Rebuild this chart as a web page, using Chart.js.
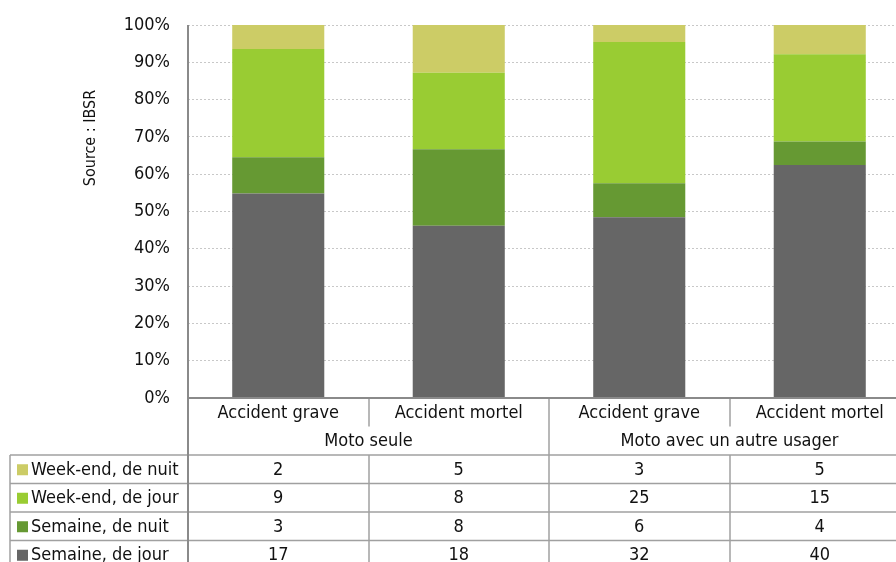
<!DOCTYPE html>
<html>
<head>
<meta charset="utf-8">
<script src="https://cdn.jsdelivr.net/npm/chart.js@4"></script>
<style>
  html, body { margin: 0; padding: 0; overflow: hidden; background: #fff; }
  canvas { display: block; }
</style>
</head>
<body>
<canvas id="myChart" width="910" height="600"></canvas>
<script>
var categories = ['Accident grave', 'Accident mortel', 'Accident grave', 'Accident mortel'];
var groups = ['Moto seule', 'Moto avec un autre usager'];
var seriesNames = ['Semaine, de jour', 'Semaine, de nuit', 'Week-end, de jour', 'Week-end, de nuit'];
var semaineJour = [17, 18, 32, 40];
var semaineNuit = [3, 8, 6, 4];
var weekendJour = [9, 8, 25, 15];
var weekendNuit = [2, 5, 3, 5];
var yTicks = [0, 10, 20, 30, 40, 50, 60, 70, 80, 90, 100];
var colors = ['#666666', '#669933', '#99cc33', '#cccc66'];

var counts = [semaineJour, semaineNuit, weekendJour, weekendNuit];
var totals = categories.map(function(c, i) {
  return counts.reduce(function(s, arr) { return s + arr[i]; }, 0);
});
function toPct(arr) {
  return arr.map(function(v, i) { return v / totals[i] * 100; });
}

var FONT = "'DejaVu Sans Condensed', 'Liberation Sans', sans-serif";
Chart.defaults.font.family = FONT;
Chart.defaults.color = '#111';

var tablePlugin = {
  id: 'dataTable',
  afterDraw: function(chart) {
    var ctx = chart.ctx;
    var area = chart.chartArea;
    var xs = chart.scales.x;
    var n = categories.length;
    var colW = (area.right - area.left) / n;
    var rowTop = area.bottom;
    var rowH = 28.5;
    var legTop = area.bottom + 57;
    var bottom = 620;

    ctx.save();
    // y title
    ctx.save();
    ctx.translate(91, 138);
    ctx.rotate(-Math.PI / 2);
    ctx.font = '16px ' + FONT;
    ctx.fillStyle = '#111';
    ctx.textAlign = 'center';
    ctx.textBaseline = 'middle';
    ctx.fillText('Source : IBSR', 0, 0);
    ctx.restore();

    ctx.strokeStyle = '#a0a0a0';
    ctx.lineWidth = 1.5;
    function line(x1, y1, x2, y2) {
      ctx.beginPath(); ctx.moveTo(x1, y1); ctx.lineTo(x2, y2); ctx.stroke();
    }
    // inner dividers
    for (var i = 1; i < n; i++) {
      var x = Math.round(area.left + colW * i);
      if (i % 2 === 0) {
        line(x, rowTop, x, bottom);
      } else {
        line(x, rowTop, x, rowTop + rowH);
        line(x, legTop, x, bottom);
      }
    }
    // legend rows
    for (var r = 0; r <= seriesNames.length; r++) {
      var y = legTop + r * rowH;
      line(10, y, 910, y);
    }
    line(10, legTop, 10, bottom);

    // axis lines
    ctx.strokeStyle = '#8a8a8a';
    ctx.lineWidth = 2;
    line(area.left, area.top, area.left, bottom);
    line(area.left, area.bottom, 910, area.bottom);

    ctx.fillStyle = '#111';
    ctx.font = '18px ' + FONT;
    ctx.textAlign = 'center';
    ctx.textBaseline = 'middle';
    categories.forEach(function(c, i) {
      ctx.fillText(c, xs.getPixelForValue(i), rowTop + 15);
    });
    groups.forEach(function(g, gi) {
      ctx.fillText(g, area.left + colW * (gi * 2 + 1), rowTop + 43);
    });

    // rows, top series first
    for (var k = seriesNames.length - 1, r2 = 0; k >= 0; k--, r2++) {
      var cy = legTop + r2 * rowH + rowH / 2 + 1;
      ctx.fillStyle = colors[k];
      ctx.fillRect(17, cy - 6, 11, 11);
      ctx.fillStyle = '#111';
      ctx.textAlign = 'left';
      ctx.fillText(seriesNames[k], 31, cy);
      ctx.textAlign = 'center';
      counts[k].forEach(function(v, i) {
        ctx.fillText(String(v), xs.getPixelForValue(i), cy);
      });
    }
    ctx.restore();
  }
};

var ctx = document.getElementById('myChart').getContext('2d');
var myChart = new Chart(ctx, {
  type: 'bar',
  data: {
    labels: categories,
    datasets: seriesNames.map(function(name, k) {
      return {
        label: name,
        data: toPct(counts[k]),
        backgroundColor: colors[k],
        borderWidth: 0,
        barPercentage: 0.51,
        categoryPercentage: 1
      };
    })
  },
  options: {
    responsive: false,
    animation: false,
    layout: { autoPadding: false, padding: { top: 25, right: 0, bottom: 202, left: 0 } },
    plugins: {
      legend: { display: false },
      tooltip: { enabled: false }
    },
    scales: {
      x: {
        stacked: true,
        display: false
      },
      y: {
        stacked: true,
        min: 0,
        max: 100,
        afterFit: function(scale) {
          scale.width = 188;
          scale.paddingTop = 0;
          scale.paddingBottom = 0;
        },
        afterBuildTicks: function(scale) {
          scale.ticks = yTicks.map(function(v) { return { value: v }; });
        },
        ticks: {
          padding: 18,
          font: { size: 18 },
          color: '#111',
          callback: function(v) { return v + '%'; }
        },
        grid: {
          color: '#c8c8c8',
          drawTicks: false,
          lineWidth: 1
        },
        border: { display: false, dash: [2, 2] }
      }
    }
  },
  plugins: [tablePlugin]
});
</script>
</body>
</html>
